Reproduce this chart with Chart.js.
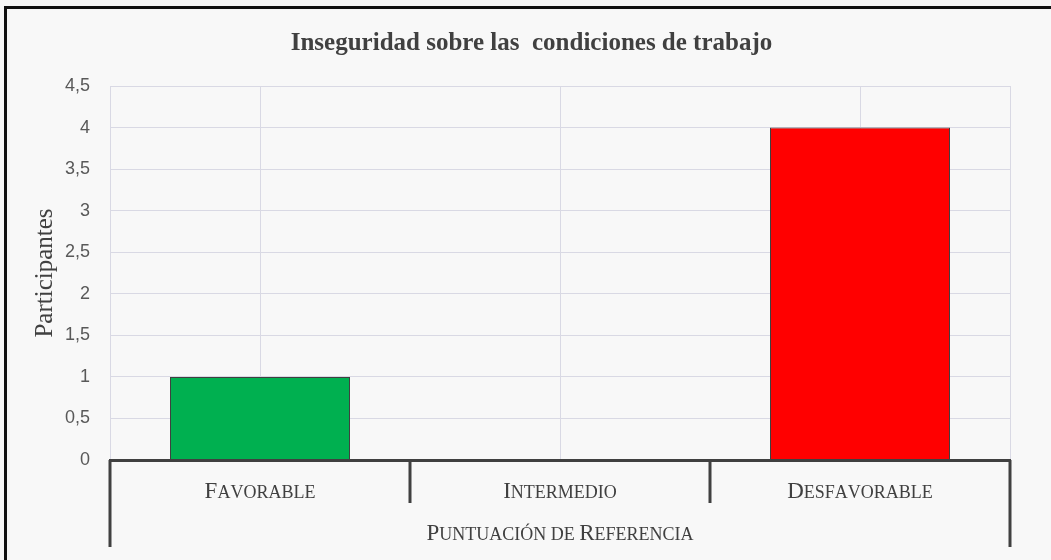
<!DOCTYPE html>
<html>
<head>
<meta charset="utf-8">
<script src="https://cdn.jsdelivr.net/npm/chart.js@4.4.1/dist/chart.umd.min.js"></script>
<style>
  html, body { margin: 0; padding: 0; background: #f8f8f8; overflow: hidden; }
  #wrap { position: absolute; left: 0; top: 0; width: 1051px; height: 560px; }
  #frame { position: absolute; left: 4px; top: 6px; width: 1100px; height: 600px;
           border: 3px solid #111; pointer-events: none; }
</style>
</head>
<body>
<div id="wrap"><canvas id="myChart" width="1051" height="560"></canvas></div>
<div id="frame"></div>
<script>
const categories = ['Favorable', 'Intermedio', 'Desfavorable']
const participantes = [1, 0, 4]
const barColors = ['#00B050', '#FF0000', '#FF0000']
const yTicks = [0, 0.5, 1, 1.5, 2, 2.5, 3, 3.5, 4, 4.5]
const xTitle = 'Puntuación de Referencia'

const lineColor = '#404040'
const gridColor = '#d9d9e4'
const serif = 'Liberation Serif'

// versalitas a mano (canvas no las sintetiza)
function smallCapsParts(text, big, small) {
    const parts = []
    for (let i = 0; i < text.length; i++) {
        const ch = text[i]
        const isUpper = ch !== ch.toLowerCase()
        parts.push({ t: ch.toUpperCase(), size: isUpper ? big : small })
    }
    return parts
}

function drawSmallCaps(ctx, text, cx, cy, big, small) {
    const parts = smallCapsParts(text, big, small)
    let w = 0
    parts.forEach(p => {
        ctx.font = p.size + 'px "' + serif + '"'
        p.w = ctx.measureText(p.t).width
        w += p.w
    })
    let x = cx - w / 2
    ctx.textBaseline = 'alphabetic'
    ctx.textAlign = 'left'
    const baseY = cy + big * 0.33
    parts.forEach(p => {
        ctx.font = p.size + 'px "' + serif + '"'
        ctx.fillText(p.t, x, baseY)
        x += p.w
    })
}

// lineas tipo tabla debajo del eje x + etiquetas
const tableLines = {
    id: 'tableLines',
    afterDraw(chart) {
        const ctx = chart.ctx
        const x = chart.scales.x
        const area = chart.chartArea
        const base = area.bottom
        ctx.save()
        ctx.strokeStyle = gridColor
        ctx.lineWidth = 1
        ctx.beginPath()
        ctx.moveTo(Math.round(area.right) + 0.5, area.top)
        ctx.lineTo(Math.round(area.right) + 0.5, base)
        ctx.stroke()

        ctx.strokeStyle = lineColor
        ctx.lineWidth = 3
        ctx.beginPath()
        ctx.moveTo(area.left - 1, base + 0.5)
        ctx.lineTo(area.right + 1, base + 0.5)
        ctx.stroke()
        ctx.beginPath()
        ctx.moveTo(area.left, base)
        ctx.lineTo(area.left, base + 87)
        ctx.moveTo(area.right, base)
        ctx.lineTo(area.right, base + 87)
        for (let i = 0; i < categories.length - 1; i++) {
            const b = (x.getPixelForValue(i) + x.getPixelForValue(i + 1)) / 2
            ctx.moveTo(b, base)
            ctx.lineTo(b, base + 43)
        }
        ctx.stroke()

        ctx.fillStyle = lineColor
        categories.forEach((c, i) => {
            drawSmallCaps(ctx, c, x.getPixelForValue(i), base + 30, 23, 18)
        })
        drawSmallCaps(ctx, xTitle, (area.left + area.right) / 2, base + 72, 23, 18)
        ctx.restore()
    }
}

const data = {
    labels: categories,
    datasets: [{
        label: 'Participantes',
        data: participantes,
        backgroundColor: barColors,
        borderColor: lineColor,
        borderWidth: 1,
        barPercentage: 0.6,
        categoryPercentage: 1
    }]
}

const config = {
    type: 'bar',
    data: data,
    options: {
        responsive: false,
        animation: false,
        layout: { padding: { left: 12, right: 0, top: 0, bottom: 0 } },
        plugins: {
            legend: { display: false },
            tooltip: { enabled: false },
            title: {
                display: true,
                text: 'Inseguridad sobre las  condiciones de trabajo',
                color: lineColor,
                font: { family: serif, size: 25, weight: 'bold' },
                padding: { top: 29, bottom: 27 }
            }
        },
        scales: {
            x: {
                offset: true,
                grid: { color: gridColor, offset: false, drawTicks: false },
                border: { display: false },
                ticks: { display: false },
                afterFit: s => { s.height = 100 }
            },
            y: {
                min: 0,
                max: 4.5,
                grid: { color: gridColor, drawTicks: false },
                border: { color: gridColor },
                afterBuildTicks: s => { s.ticks = yTicks.map(v => ({ value: v })) },
                ticks: {
                    color: '#595959',
                    padding: 20,
                    font: { family: 'Liberation Sans', size: 18 },
                    callback: v => String(v).replace('.', ',')
                },
                title: {
                    display: true,
                    text: 'Participantes',
                    color: lineColor,
                    font: { family: serif, size: 25 },
                    padding: { top: 18, bottom: 0 }
                },
                afterFit: s => { s.width = 98 }
            },
            // espacio a la derecha del area de trazado
            y2: {
                position: 'right',
                grid: { display: false },
                border: { display: false },
                ticks: { display: false },
                afterFit: s => { s.width = 41 }
            }
        }
    },
    plugins: [tableLines]
}

const myChart = new Chart(document.getElementById('myChart'), config)
</script>
</body>
</html>
